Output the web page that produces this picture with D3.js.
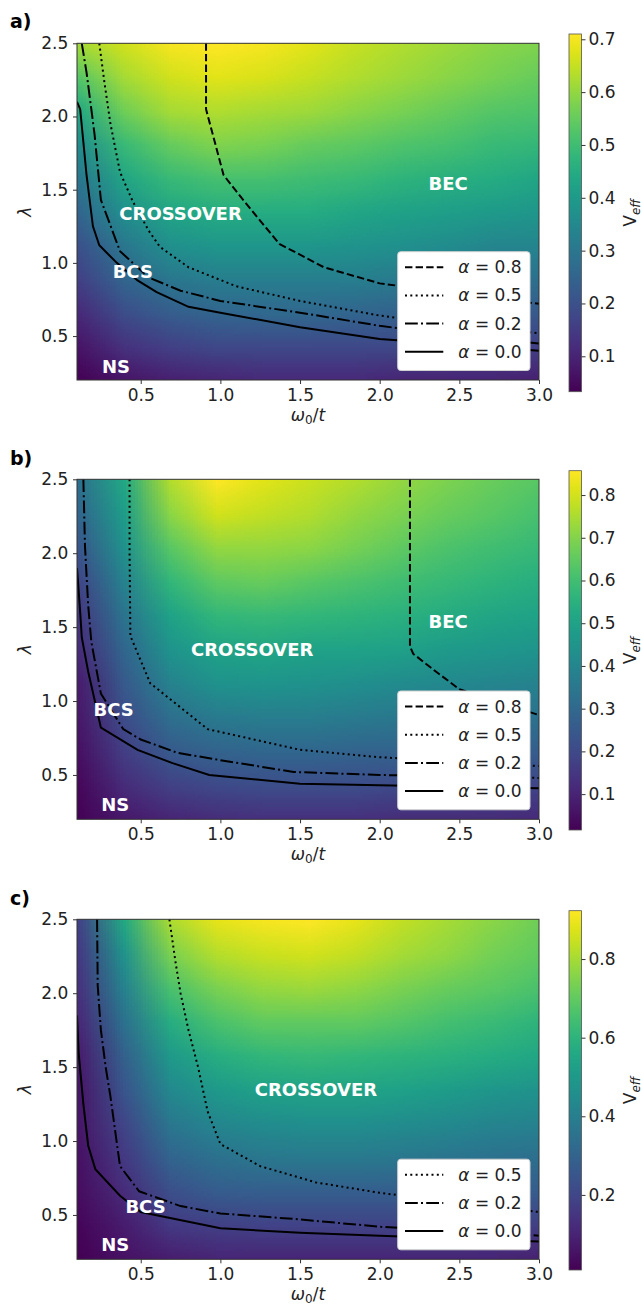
<!DOCTYPE html>
<html>
<head>
<meta charset="utf-8">
<script src="https://cdn.jsdelivr.net/npm/d3@7"></script>
<style>
	body { margin: 0; background: #fff; }
	svg { display: block; font-family: "DejaVu Sans", sans-serif; }
</style>
</head>
<body>
<svg id="fig" width="641" height="1307"></svg>
<script>
// sample grid of the V_eff maps (rows go from the top, lambda = 2.5, down)
var omegaGrid = [0.1, 0.39, 0.68, 0.97, 1.26, 1.55, 1.84, 2.13, 2.42, 2.71, 3.0];
var lambdaGrid = [2.5, 2.27, 2.04, 1.81, 1.58, 1.35, 1.12, 0.89, 0.66, 0.43, 0.2];

var veffA = [
	[0.62, 0.66, 0.70, 0.71, 0.70, 0.68, 0.65, 0.63, 0.61, 0.59, 0.58],
	[0.53, 0.62, 0.66, 0.68, 0.67, 0.65, 0.63, 0.61, 0.59, 0.57, 0.55],
	[0.44, 0.56, 0.62, 0.63, 0.62, 0.61, 0.59, 0.57, 0.55, 0.53, 0.52],
	[0.36, 0.49, 0.55, 0.58, 0.57, 0.55, 0.54, 0.52, 0.51, 0.49, 0.48],
	[0.30, 0.43, 0.49, 0.51, 0.51, 0.50, 0.49, 0.47, 0.46, 0.45, 0.43],
	[0.25, 0.37, 0.43, 0.45, 0.45, 0.45, 0.43, 0.42, 0.41, 0.40, 0.39],
	[0.20, 0.30, 0.37, 0.39, 0.39, 0.39, 0.38, 0.37, 0.36, 0.34, 0.34],
	[0.16, 0.25, 0.30, 0.32, 0.32, 0.32, 0.32, 0.31, 0.30, 0.29, 0.28],
	[0.11, 0.19, 0.23, 0.25, 0.26, 0.26, 0.25, 0.24, 0.24, 0.23, 0.22],
	[0.07, 0.13, 0.16, 0.18, 0.18, 0.18, 0.18, 0.18, 0.17, 0.16, 0.16],
	[0.03, 0.07, 0.09, 0.10, 0.11, 0.11, 0.11, 0.10, 0.10, 0.10, 0.09]
];
var veffB = [
	[0.33, 0.52, 0.76, 0.86, 0.82, 0.79, 0.76, 0.72, 0.69, 0.66, 0.64],
	[0.29, 0.48, 0.71, 0.80, 0.78, 0.76, 0.72, 0.69, 0.66, 0.64, 0.61],
	[0.24, 0.44, 0.64, 0.72, 0.72, 0.71, 0.68, 0.65, 0.62, 0.60, 0.58],
	[0.19, 0.39, 0.57, 0.65, 0.66, 0.64, 0.62, 0.60, 0.58, 0.56, 0.54],
	[0.15, 0.34, 0.50, 0.57, 0.58, 0.57, 0.56, 0.55, 0.53, 0.51, 0.50],
	[0.12, 0.29, 0.45, 0.50, 0.51, 0.50, 0.50, 0.49, 0.47, 0.46, 0.45],
	[0.08, 0.25, 0.39, 0.44, 0.45, 0.44, 0.43, 0.42, 0.41, 0.40, 0.39],
	[0.07, 0.21, 0.32, 0.36, 0.37, 0.37, 0.36, 0.35, 0.34, 0.34, 0.33],
	[0.05, 0.17, 0.25, 0.28, 0.29, 0.29, 0.28, 0.28, 0.28, 0.27, 0.26],
	[0.03, 0.12, 0.18, 0.20, 0.21, 0.21, 0.21, 0.20, 0.20, 0.19, 0.19],
	[0.02, 0.07, 0.10, 0.12, 0.13, 0.13, 0.13, 0.12, 0.12, 0.12, 0.11]
];
var veffC = [
	[0.19, 0.56, 0.81, 0.89, 0.91, 0.92, 0.89, 0.84, 0.80, 0.76, 0.72],
	[0.16, 0.48, 0.74, 0.82, 0.85, 0.86, 0.84, 0.80, 0.77, 0.73, 0.70],
	[0.14, 0.41, 0.66, 0.74, 0.78, 0.79, 0.77, 0.74, 0.71, 0.69, 0.66],
	[0.11, 0.35, 0.58, 0.66, 0.70, 0.70, 0.70, 0.68, 0.65, 0.63, 0.60],
	[0.08, 0.29, 0.50, 0.58, 0.61, 0.62, 0.61, 0.60, 0.59, 0.57, 0.55],
	[0.06, 0.25, 0.44, 0.50, 0.53, 0.54, 0.54, 0.53, 0.51, 0.49, 0.48],
	[0.06, 0.20, 0.37, 0.43, 0.45, 0.46, 0.46, 0.45, 0.44, 0.42, 0.41],
	[0.05, 0.16, 0.30, 0.35, 0.37, 0.38, 0.38, 0.37, 0.36, 0.35, 0.34],
	[0.04, 0.12, 0.23, 0.27, 0.28, 0.28, 0.28, 0.28, 0.27, 0.27, 0.27],
	[0.02, 0.08, 0.16, 0.18, 0.19, 0.19, 0.19, 0.19, 0.19, 0.18, 0.18],
	[0.01, 0.05, 0.08, 0.10, 0.10, 0.10, 0.10, 0.10, 0.10, 0.10, 0.09]
];

// colour bar ranges and ticks
var cbRangeA = [0.033, 0.71], cbTicksA = [0.1, 0.2, 0.3, 0.4, 0.5, 0.6, 0.7];
var cbRangeB = [0.016, 0.857], cbTicksB = [0.1, 0.2, 0.3, 0.4, 0.5, 0.6, 0.7, 0.8];
var cbRangeC = [0.009, 0.923], cbTicksC = [0.2, 0.4, 0.6, 0.8];

// phase boundaries [omega0/t, lambda]
var bndA08 = [[0.91,2.5],[0.91,2.05],[1.02,1.6],[1.15,1.42],[1.37,1.13],[1.65,0.97],[2.0,0.86],[2.5,0.79],[3.0,0.72]];
var bndA05 = [[0.24,2.5],[0.27,2.25],[0.31,1.95],[0.37,1.62],[0.45,1.42],[0.55,1.22],[0.62,1.11],[0.8,0.97],[1.1,0.84],[1.5,0.74],[2.0,0.64],[2.5,0.57],[3.0,0.52]];
var bndA02 = [[0.13,2.5],[0.16,2.3],[0.21,1.88],[0.25,1.43],[0.37,1.08],[0.55,0.90],[0.75,0.81],[1.0,0.74],[1.5,0.66],[2.0,0.57],[2.5,0.50],[3.0,0.45]];
var bndA00 = [[0.1,2.10],[0.12,2.05],[0.16,1.60],[0.2,1.25],[0.24,1.12],[0.35,1.0],[0.48,0.88],[0.6,0.8],[0.8,0.70],[1.0,0.66],[1.5,0.56],[2.0,0.48],[2.5,0.44],[3.0,0.40]];

var bndB08 = [[2.19,2.5],[2.19,1.37],[2.21,1.32],[2.34,1.21],[2.5,1.08],[3.0,0.905]];
var bndB05 = [[0.43,2.5],[0.43,2.0],[0.435,1.44],[0.56,1.12],[0.92,0.81],[1.5,0.67],[2.0,0.62],[2.5,0.59],[3.0,0.56]];
var bndB02 = [[0.14,2.5],[0.15,2.05],[0.17,1.65],[0.19,1.4],[0.25,1.05],[0.39,0.81],[0.5,0.74],[0.73,0.65],[1.0,0.60],[1.46,0.52],[2.0,0.50],[2.5,0.49],[3.0,0.48]];
var bndB00 = [[0.1,1.9],[0.12,1.6],[0.13,1.43],[0.17,1.2],[0.25,0.82],[0.48,0.67],[0.7,0.58],[0.93,0.50],[1.5,0.44],[2.0,0.43],[2.5,0.42],[3.0,0.41]];

var bndC05 = [[0.68,2.5],[0.72,2.2],[0.75,2.0],[0.8,1.75],[0.86,1.5],[0.92,1.2],[1.0,0.98],[1.25,0.83],[1.6,0.72],[2.0,0.65],[2.5,0.58],[3.0,0.52]];
var bndC02 = [[0.226,2.5],[0.23,2.05],[0.25,1.75],[0.28,1.5],[0.31,1.3],[0.37,0.83],[0.49,0.66],[0.75,0.56],[1.0,0.51],[1.5,0.47],[2.0,0.42],[2.5,0.39],[3.0,0.36]];
var bndC00 = [[0.1,1.85],[0.11,1.6],[0.14,1.25],[0.17,0.97],[0.215,0.81],[0.37,0.63],[0.5,0.52],[1.0,0.41],[1.5,0.38],[2.0,0.36],[2.5,0.34],[3.0,0.32]];

// region names, placed in data coordinates
var regionsA = [["CROSSOVER",0.75,1.34],["BEC",2.43,1.54],["BCS",0.45,0.94],["NS",0.345,0.29]];
var regionsB = [["CROSSOVER",1.20,1.35],["BEC",2.43,1.54],["BCS",0.33,0.945],["NS",0.34,0.30]];
var regionsC = [["CROSSOVER",1.60,1.35],["BCS",0.53,0.56],["NS",0.34,0.30]];

var xTicks = [0.5, 1.0, 1.5, 2.0, 2.5, 3.0];
var yTicks = [0.5, 1.0, 1.5, 2.0, 2.5];
var panelNames = ["a)", "b)", "c)"];

// line style per alpha
var dashes = { "0.8": "7.4,3.2", "0.5": "2,3.3", "0.2": "12.8,3.2,2,3.2", "0.0": null };

var panels = [
	{ name: panelNames[0], veff: veffA, cb: cbRangeA, cbTicks: cbTicksA, regions: regionsA,
	  bounds: [["0.8", bndA08], ["0.5", bndA05], ["0.2", bndA02], ["0.0", bndA00]],
	  top: 43.3, bottom: 380, cbTop: 34, cbBottom: 391.7, labelY: 28 },
	{ name: panelNames[1], veff: veffB, cb: cbRangeB, cbTicks: cbTicksB, regions: regionsB,
	  bounds: [["0.8", bndB08], ["0.5", bndB05], ["0.2", bndB02], ["0.0", bndB00]],
	  top: 479.3, bottom: 819.3, cbTop: 470.7, cbBottom: 830, labelY: 465 },
	{ name: panelNames[2], veff: veffC, cb: cbRangeC, cbTicks: cbTicksC, regions: regionsC,
	  bounds: [["0.5", bndC05], ["0.2", bndC02], ["0.0", bndC00]],
	  top: 919.3, bottom: 1259.3, cbTop: 910.7, cbBottom: 1270, labelY: 905 }
];

var svg = d3.select("#fig");
var defs = svg.append("defs");
var left = 77, right = 539;
var cbLeft = 569, cbWidth = 12.5;
var fs = 17;

function styleAxis(sel) {
	sel.select(".domain").remove();
	sel.selectAll("line").attr("stroke", "#333").attr("stroke-width", 1);
	sel.selectAll("text").attr("fill", "#222").style("font-size", fs + "px")
		.style("font-family", '"DejaVu Sans", sans-serif');
}

panels.forEach(function(p, k) {
	var g = svg.append("g");
	var x = d3.scaleLinear().domain([0.1, 3.0]).range([left, right]);
	var y = d3.scaleLinear().domain([0.2, 2.5]).range([p.bottom, p.top]);
	var color = d3.scaleSequential(d3.interpolateViridis).domain(p.cb);

	defs.append("clipPath").attr("id", "clip" + k)
		.append("rect").attr("x", left).attr("y", p.top)
		.attr("width", right - left).attr("height", p.bottom - p.top);

	// heat map: one pixel per grid sample, smoothed by the browser
	var nx = omegaGrid.length, ny = lambdaGrid.length;
	var cv = document.createElement("canvas");
	cv.width = nx; cv.height = ny;
	var ctx = cv.getContext("2d");
	var img = ctx.createImageData(nx, ny);
	p.veff.forEach(function(row, j) {
		row.forEach(function(v, i) {
			var c = d3.rgb(color(v)), o = (j * nx + i) * 4;
			img.data[o] = c.r; img.data[o + 1] = c.g; img.data[o + 2] = c.b; img.data[o + 3] = 255;
		});
	});
	ctx.putImageData(img, 0, 0);
	var dx = omegaGrid[1] - omegaGrid[0], dy = lambdaGrid[0] - lambdaGrid[1];
	g.append("image")
		.attr("href", cv.toDataURL())
		.attr("x", x(omegaGrid[0] - dx / 2))
		.attr("y", y(lambdaGrid[0] + dy / 2))
		.attr("width", x(omegaGrid[nx - 1] + dx / 2) - x(omegaGrid[0] - dx / 2))
		.attr("height", y(lambdaGrid[ny - 1] - dy / 2) - y(lambdaGrid[0] + dy / 2))
		.attr("preserveAspectRatio", "none")
		.attr("clip-path", "url(#clip" + k + ")");

	// phase boundaries
	var line = d3.line().x(function(d) { return x(d[0]); }).y(function(d) { return y(d[1]); });
	p.bounds.forEach(function(b) {
		g.append("path").datum(b[1])
			.attr("d", line)
			.attr("fill", "none")
			.attr("stroke", "#000")
			.attr("stroke-width", 2)
			.attr("stroke-dasharray", dashes[b[0]])
			.attr("clip-path", "url(#clip" + k + ")");
	});

	// region names
	p.regions.forEach(function(r) {
		g.append("text")
			.attr("x", x(r[1])).attr("y", y(r[2]))
			.attr("text-anchor", "middle").attr("dy", "0.36em")
			.attr("fill", "#fff").attr("font-weight", "bold")
			.style("font-size", "18px")
			.text(r[0]);
	});

	// legend
	var rowH = 28.2, lw = 132.3;
	var lh = p.bounds.length * rowH + 6;
	var lg = g.append("g").attr("transform", "translate(" + (right - 9 - lw) + "," + (p.bottom - 9.5 - lh) + ")");
	lg.append("rect").attr("width", lw).attr("height", lh).attr("rx", 3)
		.attr("fill", "#fff").attr("stroke", "#d0d0d0").attr("stroke-width", 1);
	p.bounds.forEach(function(b, i) {
		var cy = 15.5 + i * rowH;
		lg.append("line").attr("x1", 7.3).attr("x2", 45.6).attr("y1", cy).attr("y2", cy)
			.attr("stroke", "#000").attr("stroke-width", 2)
			.attr("stroke-dasharray", dashes[b[0]]);
		var t = lg.append("text").attr("x", 60.6).attr("y", cy + 6).style("font-size", fs + "px").attr("fill", "#222");
		t.append("tspan").attr("font-style", "italic").text("\u03b1");
		t.append("tspan").text(" = " + b[0]);
	});

	// frame
	g.append("rect").attr("x", left).attr("y", p.top)
		.attr("width", right - left).attr("height", p.bottom - p.top)
		.attr("fill", "none").attr("stroke", "#333").attr("stroke-width", 1);

	// axes
	g.append("g").attr("transform", "translate(0," + p.bottom + ")")
		.call(d3.axisBottom(x).tickValues(xTicks).tickFormat(d3.format(".1f")).tickSize(4).tickPadding(4.5))
		.call(styleAxis);
	g.append("g").attr("transform", "translate(" + left + ",0)")
		.call(d3.axisLeft(y).tickValues(yTicks).tickFormat(d3.format(".1f")).tickSize(4).tickPadding(4.7))
		.call(styleAxis);

	// axis labels
	var xl = g.append("text").attr("x", (left + right) / 2).attr("y", p.bottom + 41)
		.attr("text-anchor", "middle").style("font-size", fs + "px").attr("fill", "#222");
	xl.append("tspan").attr("font-style", "italic").text("\u03c9");
	xl.append("tspan").attr("dy", 3).style("font-size", "12px").text("0");
	xl.append("tspan").attr("dy", -3).text("/");
	xl.append("tspan").attr("font-style", "italic").text("t");

	g.append("text")
		.attr("transform", "translate(31," + ((p.top + p.bottom) / 2) + ") rotate(-90)")
		.attr("text-anchor", "middle").style("font-size", fs + "px").attr("fill", "#222")
		.attr("font-style", "italic").text("\u03bb");

	// colour bar
	var grad = defs.append("linearGradient").attr("id", "grad" + k)
		.attr("x1", 0).attr("x2", 0).attr("y1", 1).attr("y2", 0);
	d3.range(0, 1.0001, 0.05).forEach(function(s) {
		grad.append("stop").attr("offset", s).attr("stop-color", d3.interpolateViridis(s));
	});
	g.append("rect").attr("x", cbLeft).attr("y", p.cbTop)
		.attr("width", cbWidth).attr("height", p.cbBottom - p.cbTop)
		.attr("fill", "url(#grad" + k + ")").attr("stroke", "#555").attr("stroke-width", 0.8);
	var cy = d3.scaleLinear().domain(p.cb).range([p.cbBottom, p.cbTop]);
	g.append("g").attr("transform", "translate(" + (cbLeft + cbWidth) + ",0)")
		.call(d3.axisRight(cy).tickValues(p.cbTicks).tickFormat(d3.format(".1f")).tickSize(4).tickPadding(3))
		.call(styleAxis);

	var vl = g.append("text")
		.attr("transform", "translate(636," + ((p.cbTop + p.cbBottom) / 2) + ") rotate(-90)")
		.attr("text-anchor", "middle").style("font-size", fs + "px").attr("fill", "#222");
	vl.append("tspan").text("V");
	vl.append("tspan").attr("dy", 3.5).attr("font-style", "italic").style("font-size", "12px").text("eff");

	// panel letter
	svg.append("text").attr("x", 10).attr("y", p.labelY)
		.attr("font-weight", "bold").style("font-size", "19px").attr("fill", "#000")
		.text(p.name);
});
</script>
</body>
</html>
